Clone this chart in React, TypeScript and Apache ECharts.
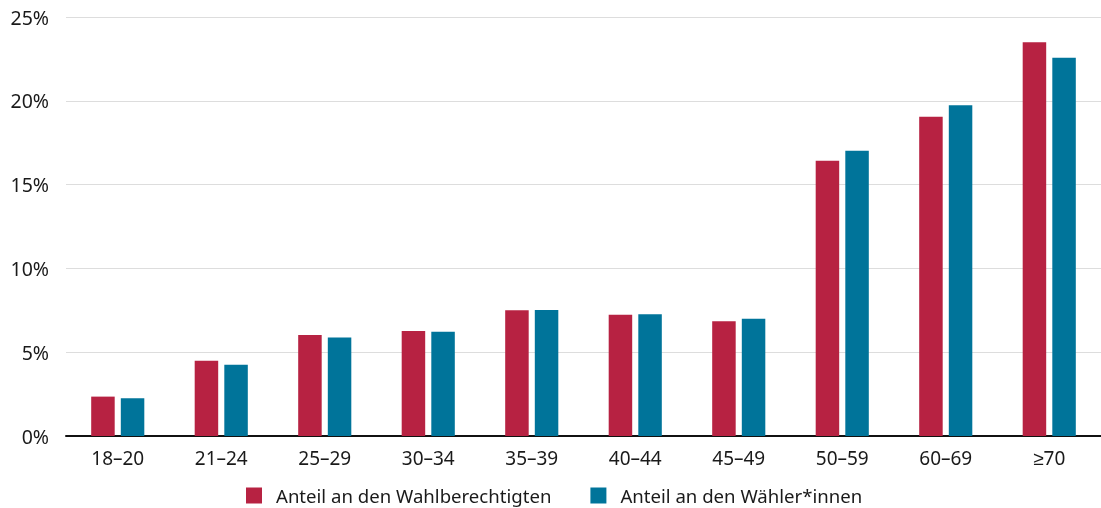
import React, { useEffect, useRef } from "react";
import * as echarts from "echarts";

const categories = ["18–20", "21–24", "25–29", "30–34", "35–39", "40–44", "45–49", "50–59", "60–69", "≥70"];
const wahlberechtigte = [2.35, 4.49, 6.03, 6.27, 7.5, 7.24, 6.84, 16.43, 19.05, 23.49];
const waehler = [2.25, 4.25, 5.87, 6.22, 7.52, 7.26, 7.0, 17.02, 19.73, 22.57];
const seriesNames = ["Anteil an den Wahlberechtigten", "Anteil an den Wähler*innen"];
const yTicks = { min: 0, max: 25, interval: 5 };

const FONT = "'Noto Sans', sans-serif";

export default function App() {
  const ref = useRef<HTMLDivElement>(null);
  useEffect(() => {
    if (!ref.current) return;
    const chart = echarts.init(ref.current, undefined, { renderer: "svg" });
    chart.setOption({
      animation: false,
      textStyle: { fontFamily: FONT },
      grid: { left: 66, right: 0, top: 17, bottom: 72, containLabel: false },
      legend: {
        left: 246,
        top: 486,
        padding: 0,
        itemWidth: 16,
        itemHeight: 16,
        itemGap: 39,
        icon: "rect",
        textStyle: {
          fontSize: 18.6,
          lineHeight: 18,
          color: "#1a1a1a",
          fontFamily: FONT,
          padding: [0, 0, 0, 9],
        },
        data: seriesNames,
      },
      xAxis: {
        type: "category",
        data: categories,
        axisLine: { lineStyle: { color: "#111", width: 2 } },
        axisTick: { show: false },
        axisLabel: { fontSize: 19, color: "#1a1a1a", margin: 12, fontFamily: FONT },
      },
      yAxis: {
        type: "value",
        min: yTicks.min,
        max: yTicks.max,
        interval: yTicks.interval,
        axisLine: { show: false },
        axisTick: { show: false },
        splitLine: { lineStyle: { color: "#dddddd", width: 1 } },
        axisLabel: { fontSize: 19.5, color: "#1a1a1a", margin: 17, formatter: "{value}%", fontFamily: FONT },
      },
      series: [
        {
          name: seriesNames[0],
          type: "bar",
          data: wahlberechtigte,
          barWidth: 23.5,
          barGap: "26%",
          itemStyle: { color: "#b72242" },
        },
        {
          name: seriesNames[1],
          type: "bar",
          data: waehler,
          barWidth: 23.5,
          barGap: "26%",
          itemStyle: { color: "#00749a" },
        },
      ],
    });
    return () => chart.dispose();
  }, []);
  return (
    <div
      ref={ref}
      style={{ position: "fixed", top: 0, left: 0, width: 1101, height: 508, overflow: "hidden" }}
    />
  );
}
